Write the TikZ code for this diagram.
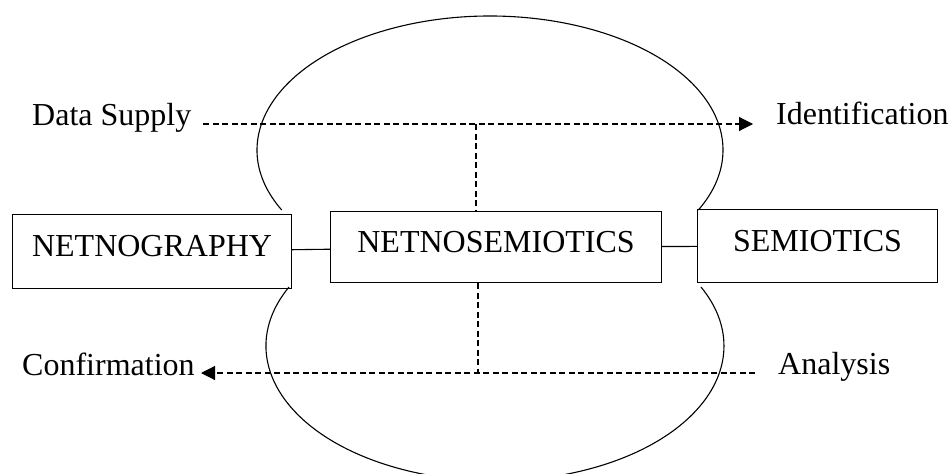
\documentclass[tikz,border=0pt]{standalone}
\usepackage{fontspec}
\setmainfont{Liberation Serif}
\usetikzlibrary{arrows.meta}
\begin{document}
\begin{tikzpicture}[x=1pt,y=1pt,
  box/.style={draw, line width=1.1pt, rectangle, inner xsep=0pt, inner ysep=0pt, anchor=north west, font=\fontsize{32}{36}\selectfont},
  lbl/.style={inner sep=0pt, font=\fontsize{32}{36}\selectfont},
  lobe/.style={line width=1.1pt},
  link/.style={line width=1.1pt},
  flow/.style={line width=1.1pt, dash pattern=on 6pt off 3.5pt, -{Triangle[length=14pt,width=14pt]}},
  guide/.style={line width=1.1pt, dash pattern=on 6pt off 3.5pt}]
\useasboundingbox (0,0) rectangle (948,-474);

% lobes
\draw[lobe] (281.7,-210) arc[start angle=206.6, end angle=-26.6, x radius=233pt, y radius=134pt];
\draw[lobe] (289,-287) arc[start angle=154.1, end angle=385.9, x radius=229pt, y radius=135pt];

% boxes
\node[box, minimum width=279pt, text height=42pt, text depth=32pt] (ng) at (12,-214) {NETNOGRAPHY};
\node[box, minimum width=331pt, text height=41pt, text depth=30pt] (ns) at (330,-211) {NETNOSEMIOTICS};
\node[box, minimum width=240pt, text height=42pt, text depth=31pt] (se) at (697,-209) {SEMIOTICS};

% labels
\node[lbl, anchor=base west] (ds) at (32,-125) {Data Supply};
\node[lbl, anchor=base west] (id) at (776,-124) {Identification};
\node[lbl, anchor=base west] (cf) at (22,-375) {Confirmation};
\node[lbl, anchor=base west] (an) at (778,-374) {Analysis};

% coordinates
\coordinate (ts) at (203,-124);
\coordinate (te) at (753,-124);
\coordinate (tj) at (476,-124);
\coordinate (bs) at (755,-373);
\coordinate (be) at (201,-373);
\coordinate (bj) at (478,-373);

% links
\draw[link] (ng) -- (ns);
\draw[link] (ns) -- (se);

% flows
\draw[flow] (ts) -- (te);
\draw[flow] (bs) -- (be);
\draw[guide] (tj) -- (tj |- ns.north);
\draw[guide] (ns.south -| bj) -- (bj);
\end{tikzpicture}
\end{document}
